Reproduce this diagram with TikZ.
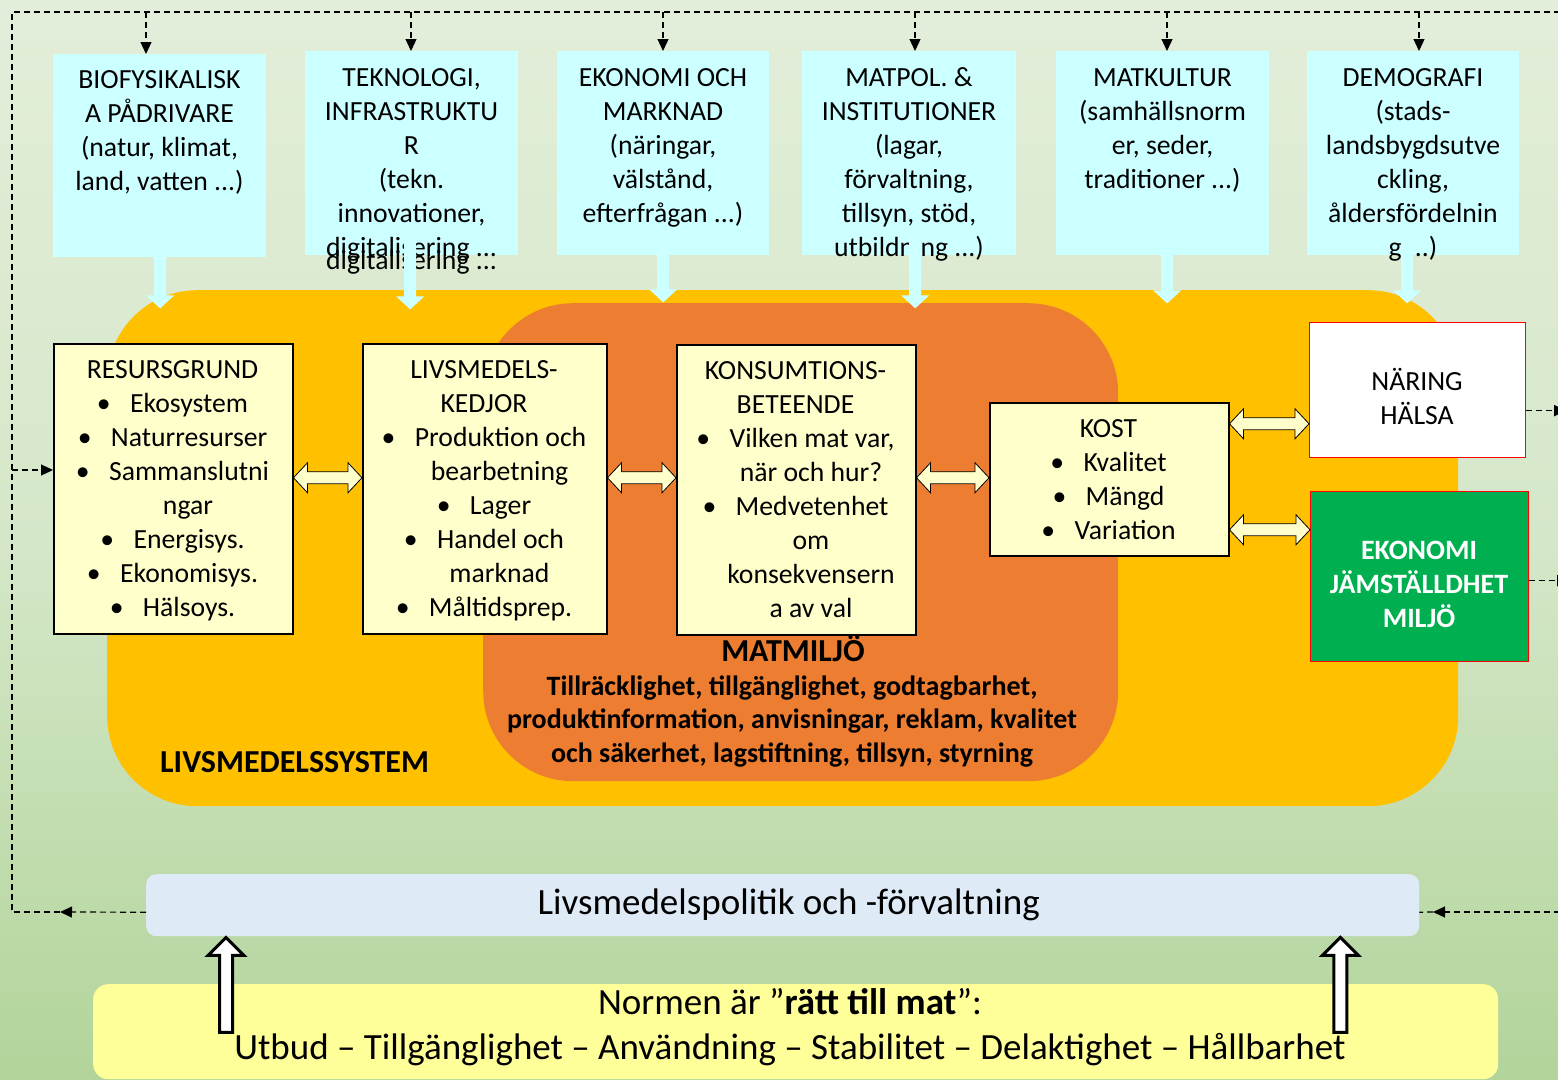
\documentclass[tikz,border=0pt]{standalone}
\usepackage{fontspec}
\setmainfont{Carlito}
\usetikzlibrary{arrows.meta,calc}
\definecolor{bgtop}{HTML}{E3EEDA}
\definecolor{bgmid}{HTML}{D5E7C9}
\definecolor{bgbot}{HTML}{B2D49A}
\definecolor{cyanbox}{HTML}{CCFFFF}
\definecolor{sysy}{HTML}{FFC000}
\definecolor{envo}{HTML}{ED7D31}
\definecolor{cream}{HTML}{FFFFCC}
\definecolor{okgreen}{HTML}{00B050}
\definecolor{polblue}{HTML}{DEEBF7}
\definecolor{normy}{HTML}{FFFF99}
\definecolor{redb}{HTML}{FF0000}
\newcommand\fl{\rule{0pt}{.85em}}
\newcommand\bl{\textbullet\hspace{0.7em}}
\newcommand\ind{\hspace*{31pt}}
\newcommand\dbl[2]{\draw[dblarr] let \p1=(#1), \p2=(#2) in (\x1,\y1) -- (\x1+14pt,\y1+15pt) -- (\x1+14pt,\y1+6pt) -- (\x2-14pt,\y1+6pt) -- (\x2-14pt,\y1+15pt) -- (\x2,\y1) -- (\x2-14pt,\y1-15pt) -- (\x2-14pt,\y1-6pt) -- (\x1+14pt,\y1-6pt) -- (\x1+14pt,\y1-15pt) -- cycle;}
\newcommand\cyarr[2]{\fill[cyanbox] let \p1=(#1) in (\x1-6pt,\y1+25pt) -- (\x1-6pt,\y1-#2pt+13pt) -- (\x1-14pt,\y1-#2pt+13pt) -- (\x1,\y1-#2pt) -- (\x1+14pt,\y1-#2pt+13pt) -- (\x1+6pt,\y1-#2pt+13pt) -- (\x1+6pt,\y1+25pt) -- cycle;}
\newcommand\upar[1]{\draw[hol] let \p1=(#1) in (\x1,\y1-1pt) -- (\x1+18pt,\y1-19pt) -- (\x1+6.5pt,\y1-19pt) -- (\x1+6.5pt,\y1-96pt) -- (\x1-6.5pt,\y1-96pt) -- (\x1-6.5pt,\y1-19pt) -- (\x1-18pt,\y1-19pt) -- cycle;}
\tikzset{
  dsh/.style={draw=black, line width=1.2pt, dash pattern=on 6pt off 4pt},
  dar/.style={dsh, -{Triangle[length=12pt,width=11pt]}},
  cbox/.style={fill=cyanbox, inner sep=0, anchor=north west},
  ttxt/.style={font=\fontsize{27.7}{34}\selectfont, align=center, inner sep=0, anchor=north},
  ibox/.style={draw=black, line width=1.5pt, fill=cream, inner sep=0, anchor=north west},
  dblarr/.style={draw=black, line width=0.8pt, fill=cream},
  hol/.style={draw=black, line width=3pt, fill=white, line join=miter},
}
\begin{document}
\begin{tikzpicture}[x=1pt, y={(0pt,-1pt)}]
\useasboundingbox (0,0) rectangle (1558,1079);
\shade[top color=bgtop, bottom color=bgbot, middle color=bgmid] (0,0) rectangle (1558,1079);

% regions
\node[fill=sysy, rounded corners=90, minimum width=1351, minimum height=516, anchor=north west, inner sep=0] (sys) at (107,290) {};
\node[fill=envo, rounded corners=90, minimum width=635, minimum height=478, anchor=north west, inner sep=0] (env) at (483,303) {};

% top boxes
\node[cbox, minimum width=213, minimum height=203] (b1) at (53,54) {};
\node[cbox, minimum width=213, minimum height=204] (b2) at (305,51) {};
\node[cbox, minimum width=212, minimum height=204] (b3) at (557,51) {};
\node[cbox, minimum width=214, minimum height=204] (b4) at (802,51) {};
\node[cbox, minimum width=213, minimum height=204] (b5) at (1056,51) {};
\node[cbox, minimum width=212, minimum height=204] (b6) at (1307,51) {};

\node[ttxt] (t1) at (159.5,64.5) {\fl BIOFYSIKALISK\\A PÅDRIVARE\\(natur, klimat,\\land, vatten ...)};
\node[ttxt] (t2) at (411.5,62.5) {\fl TEKNOLOGI,\\INFRASTRUKTU\\R\\(tekn.\\innovationer,\\digitalisering ...};
\node[ttxt, anchor=base] (t2b) at (411.5,269) {digitalisering ...};
\node[ttxt] (t3) at (663,62.5) {\fl EKONOMI OCH\\MARKNAD\\(näringar,\\välstånd,\\efterfrågan ...)};
\node[ttxt] (t4) at (909,62.5) {\fl MATPOL. \&\\INSTITUTIONER\\(lagar,\\förvaltning,\\tillsyn, stöd,\\utbildning ...)};
\node[ttxt] (t5) at (1162.5,62.5) {\fl MATKULTUR\\(samhällsnorm\\er, seder,\\traditioner ...)};
\node[ttxt] (t6) at (1413,62.5) {\fl DEMOGRAFI\\(stads-\\landsbygdsutve\\ckling,\\åldersfördelnin\\g ...)};

\cyarr{$(b1.south)+(0.5,0)$}{51}
\cyarr{$(b2.south)+(-1.5,0)$}{54}
\cyarr{$(b3.south)$}{47}
\cyarr{$(b4.south)+(6,0)$}{53}
\cyarr{$(b5.south)+(4.5,0)$}{48}
\cyarr{$(b6.south)+(-6,0)$}{48}

% dashed feedback frame
\coordinate (d1) at (146,12);
\coordinate (d2) at (411,12);
\coordinate (d3) at (663,12);
\coordinate (d4) at (915,12);
\coordinate (d5) at (1167,12);
\coordinate (d6) at (1419,12);
\coordinate (lc) at (12,12);
\coordinate (rc) at (1570,12);
\coordinate (lb) at (12,470);
\coordinate (lbot) at (12,912);
\coordinate (la) at (60,912);
\coordinate (ra) at (1433,912);
\coordinate (rbot) at (1570,912);
\draw[dsh] (la) -- (lbot) -- (lc) -- (rc);
\foreach \i in {1,...,6} {\draw[dar] (d\i) -- (d\i |- b\i.north);}

% inner boxes
\node[ibox, minimum width=239, minimum height=290] (res) at (53,343) {};
\node[ibox, minimum width=244, minimum height=290] (kedj) at (362,343) {};
\node[ibox, minimum width=239, minimum height=290] (kons) at (676,344) {};
\node[ibox, minimum width=239, minimum height=153] (kost) at (989,402) {};
\node[draw=redb, line width=1.2pt, fill=white, inner sep=0, anchor=north west, minimum width=216, minimum height=135] (ner) at (1309,322) {};
\node[draw=redb, line width=1.2pt, fill=okgreen, inner sep=0, anchor=north west, minimum width=218, minimum height=170] (eko) at (1310,491) {};

\draw[dar] (lb) -- (lb -| res.west);

\node[ttxt] (rt) at (172.5,354.5) {\fl RESURSGRUND\\\bl Ekosystem\\\bl Naturresurser\\\bl Sammanslutni\\\ind ngar\\\bl Energisys.\\\bl Ekonomisys.\\\bl Hälsoys.};
\node[ttxt] (kt) at (484,354.5) {\fl LIVSMEDELS-\\KEDJOR\\\bl Produktion och\\\ind bearbetning\\\bl Lager\\\bl Handel och\\\ind marknad\\\bl Måltidsprep.};
\node[ttxt] (ct) at (795.5,355.5) {\fl KONSUMTIONS-\\BETEENDE\\\bl Vilken mat var,\\\ind när och hur?\\\bl Medvetenhet\\\ind om\\\ind konsekvensern\\\ind a av val};
\node[ttxt] (kst) at (1108.5,413.5) {\fl KOST\\\bl Kvalitet\\\bl Mängd\\\bl Variation};
\node[ttxt] (nt) at (1417,366.5) {\fl NÄRING\\HÄLSA};
\node[ttxt, font=\bfseries\fontsize{28}{34}\selectfont, text=white] (et) at (1419,535.2) {\fl EKONOMI\\JÄMSTÄLLDHET\\MILJÖ};

\dbl{$(res.east)+(0,-11)$}{$(kedj.west)+(0,-11)$}
\dbl{$(kedj.east)+(0,-11)$}{$(kons.west)+(0,-12)$}
\dbl{$(kons.east)+(0,-12)$}{$(kost.west)+(0,-1.5)$}
\dbl{$(kost.east)+(0,-55.5)$}{$(ner.west)+(0,33.5)$}
\dbl{$(kost.east)+(0,50.5)$}{$(eko.west)+(0,-47)$}

\draw[dar] ($(ner.east)+(0,20.5)$) -- ++(40,0);
\draw[dar] ($(eko.east)+(0,4)$) -- ++(40,0);

\node[font=\bfseries\fontsize{32}{38}\selectfont, anchor=base, inner sep=0] (mm) at (793,661) {MATMILJÖ};
\node[font=\bfseries\fontsize{28}{33.5}\selectfont, align=center, inner sep=0, anchor=north] (mp) at (792,671.2) {\fl Tillräcklighet, tillgänglighet, godtagbarhet,\\produktinformation, anvisningar, reklam, kvalitet\\och säkerhet, lagstiftning, tillsyn, styrning};
\node[font=\bfseries\fontsize{32}{38}\selectfont, anchor=base west, inner sep=0] (ls) at (160,772) {LIVSMEDELSSYSTEM};

% policy and norm
\node[fill=polblue, rounded corners=10, minimum width=1273, minimum height=62, anchor=north west, inner sep=0, font=\fontsize{37}{42}\selectfont] (pol) at (146,874) {\hspace*{12pt}Livsmedelspolitik och -förvaltning};
\node[fill=normy, rounded corners=15, minimum width=1405, minimum height=95, anchor=north west, inner sep=0] (norm) at (93,984) {};
\node[font=\fontsize{37}{45}\selectfont, align=center, inner sep=0, anchor=north] (nt2) at (790,982.5) {\fl Normen är ”\textbf{rätt till mat}”:\\Utbud – Tillgänglighet – Användning – Stabilitet – Delaktighet – Hållbarhet};

\draw[dar] ($(pol.west)+(0,7)$) -- (la);
\draw[dar] (rbot) -- (ra);
\draw[dsh] (ra) -- ($(pol.east)+(0,7)$);

\upar{$(pol.south west)+(80,0)$}
\upar{$(pol.south east)+(-79,0)$}
\end{tikzpicture}
\end{document}
